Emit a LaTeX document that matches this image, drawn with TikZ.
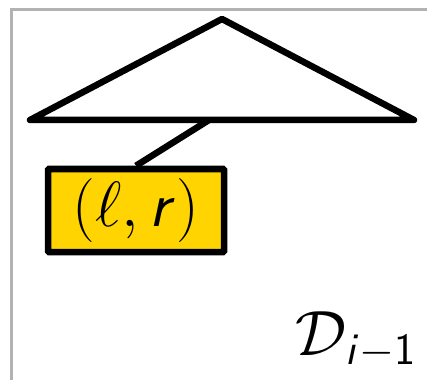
\documentclass[tikz,border=0pt]{standalone}
\usepackage{fix-cm}
\usepackage{amsmath}
\usepackage{tikz}
\DeclareMathAlphabet{\mathsfsl}{OT1}{cmss}{m}{sl}
\DeclareMathAlphabet{\mathsfup}{OT1}{cmss}{m}{n}
\definecolor{pairgold}{RGB}{255,212,0}

\begin{document}
\begin{tikzpicture}[x=1pt, y=-1pt]
    % Definición de estilos
    \tikzstyle{frame}=[draw=black!30, line width=3pt]
    \tikzstyle{tree}=[draw=black, fill=white, line width=6.5pt, line join=round]
    \tikzstyle{edge}=[draw=black, line width=6.5pt]
    \tikzstyle{pairbox}=[draw=black, fill=pairgold, line width=6.5pt, rounded corners=1pt,
        minimum width=176pt, minimum height=83pt, inner sep=0pt]
    \tikzstyle{biglabel}=[font=\fontsize{64}{72}\selectfont, inner sep=0pt]
    % Área visible y marco gris
    \useasboundingbox (0,0) rectangle (427,379);
    \clip (0,0) rectangle (427,379);
    \draw[frame] (11,10) rectangle (460,420);
    % El árbol (triángulo)
    \coordinate (apex) at (222,19);
    \coordinate (left) at (30,120);
    \coordinate (right) at (414,120);
    \coordinate (root) at (209,120);
    \draw[tree] (apex) -- (left) -- (right) -- cycle;
    % Nodo con el par (l, r)
    \node[pairbox, biglabel] (pair) at (136,210.5) {$\mathsfup{(}\ell, \mathsfsl{r}\mathsfup{)}$};
    % Arista desde la raíz hasta el par
    \draw[edge] (root) -- (pair.north);
    % Etiqueta de la estructura
    \node[biglabel, anchor=base east] (dlabel) at (416,355) {$\mathcal{D}_{\mathsfsl{i}-\mathsfup{1}}$};
\end{tikzpicture}
\end{document}
